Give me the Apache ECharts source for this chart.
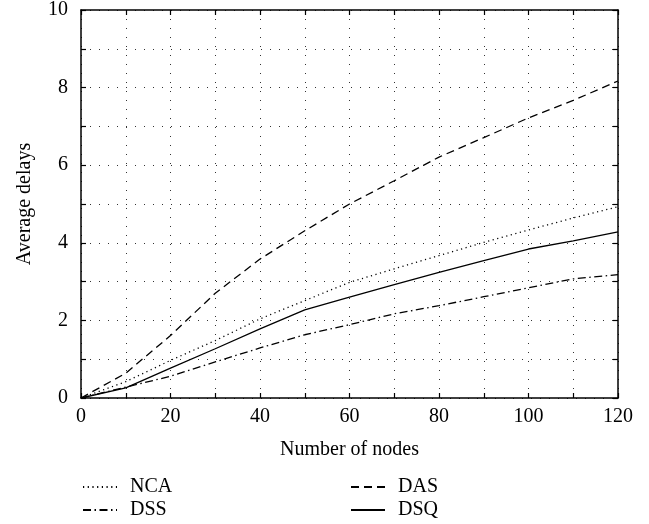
<!DOCTYPE html>
<html>
<head>
<meta charset="utf-8">
<script src="https://cdn.jsdelivr.net/npm/echarts@6/dist/echarts.min.js"></script>
<style>
html,body{margin:0;padding:0;background:#fff;}
#c{width:649px;height:524px;}
</style>
</head>
<body>
<div id="c"></div>
<script>
var nodes = [0, 10, 20, 30, 40, 50, 60, 70, 80, 90, 100, 110, 120];
var nca = [0, 0.42, 0.97, 1.48, 2.04, 2.51, 2.98, 3.33, 3.67, 4.01, 4.33, 4.64, 4.93];
var das = [0, 0.64, 1.61, 2.70, 3.58, 4.31, 5.00, 5.60, 6.21, 6.71, 7.22, 7.67, 8.17];
var dss = [0, 0.28, 0.56, 0.93, 1.29, 1.63, 1.89, 2.17, 2.38, 2.61, 2.84, 3.07, 3.18];
var dsq = [0, 0.26, 0.77, 1.27, 1.78, 2.27, 2.60, 2.92, 3.24, 3.54, 3.84, 4.05, 4.28];
var xLabelStep = 20;
var yLabelStep = 2;

var FONT = "'Liberation Serif','DejaVu Serif',serif";
function pairs(ys){ return nodes.map(function(x,i){ return [x, ys[i]]; }); }

var gridLine = {show:true, lineStyle:{color:'#333', width:1, type:[1,8]}};
function xAx(pos, labels){
  return {type:'value', min:0, max:120, interval:10, position:pos,
    axisLine:{show:true, onZero:false, lineStyle:{color:'#000', width:1.5}},
    axisTick:{show:true, inside:true, length:5, lineStyle:{color:'#000', width:1.2}},
    splitLine: labels ? gridLine : {show:false},
    axisLabel:{show:labels, margin:9, color:'#000', fontFamily:FONT, fontSize:20,
      formatter:function(v){ return (v % xLabelStep === 0) ? String(v) : ''; }},
    name: labels ? 'Number of nodes' : '', nameLocation:'middle', nameGap:42,
    nameTextStyle:{color:'#000', fontFamily:FONT, fontSize:20}
  };
}
function yAx(pos, labels){
  return {type:'value', min:0, max:10, interval:1, position:pos,
    axisLine:{show:true, onZero:false, lineStyle:{color:'#000', width:1.5}},
    axisTick:{show:true, inside:true, length:5, lineStyle:{color:'#000', width:1.2}},
    splitLine: labels ? gridLine : {show:false},
    axisLabel:{show:labels, margin:13, color:'#000', fontFamily:FONT, fontSize:20,
      formatter:function(v){ return (v % yLabelStep === 0) ? String(v) : ''; }},
    name: labels ? 'Average delays' : '', nameLocation:'middle', nameGap:46,
    nameTextStyle:{color:'#000', fontFamily:FONT, fontSize:20}
  };
}
function ser(name, ys, type, w){
  return {name:name, type:'line', data:pairs(ys), xAxisIndex:0, yAxisIndex:0,
    symbol:'none', showSymbol:false, smooth:false, animation:false,
    lineStyle:{color:'#000', width:w, type:type}, itemStyle:{color:'#000'}};
}
function leg(name, left, top){
  return {data:[name], left:left, top:top, padding:0, itemWidth:34, itemHeight:14,
    selectedMode:false, itemStyle:{opacity:0},
    textStyle:{color:'#000', fontFamily:FONT, fontSize:20, padding:[0,0,0,8]}};
}
var chart = echarts.init(document.getElementById('c'), null, {renderer:'canvas'});
chart.setOption({
  backgroundColor:'#fff',
  animation:false,
  grid:{left:81, right:31, top:9, bottom:126, containLabel:false},
  xAxis:[xAx('bottom', true), xAx('top', false)],
  yAxis:[yAx('left', true), yAx('right', false)],
  legend:[leg('NCA', 82, 477), leg('DAS', 350, 477), leg('DSS', 82, 500), leg('DSQ', 350, 500)],
  series:[
    ser('NCA', nca, [1.2,3.5], 1.3),
    ser('DAS', das, [8,5], 1.3),
    ser('DSS', dss, [8,3.5,1.5,3.5], 1.3),
    ser('DSQ', dsq, 'solid', 1.3)
  ]
});
</script>
</body>
</html>
